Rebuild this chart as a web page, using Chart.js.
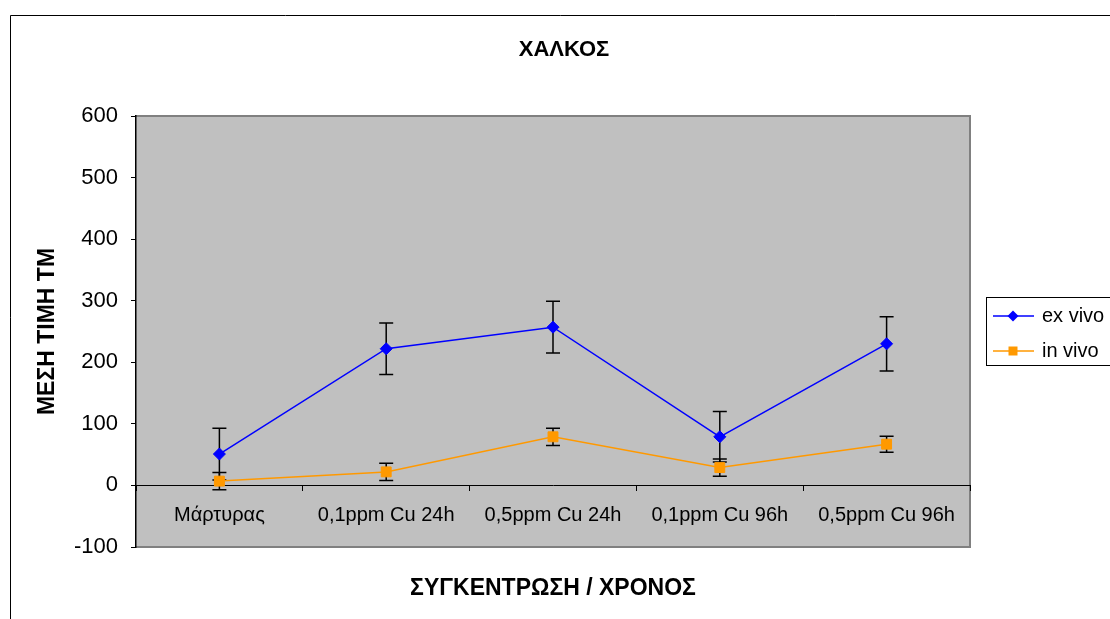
<!DOCTYPE html>
<html><head><meta charset="utf-8">
<script src="https://cdn.jsdelivr.net/npm/chart.js@4.4.0/dist/chart.umd.min.js"></script>
<style>html,body{margin:0;padding:0;background:#fff}#wrap{width:1110px;height:619px}</style>
</head><body><div id="wrap"><canvas id="c" width="1110" height="619"></canvas></div>
<script>
const categories = ['Μάρτυρας', '0,1ppm Cu 24h', '0,5ppm Cu 24h', '0,1ppm Cu 96h', '0,5ppm Cu 96h'];
const exVivo = [51, 222, 257, 79, 230];
const exVivoErr = [42, 42, 42, 41, 44];
const inVivo = [7, 22, 79, 29, 67];
const inVivoErr = [14, 14, 14, 14, 13];
const yMin = -100, yMax = 600, yStep = 100;
const chartTitle = 'ΧΑΛΚΟΣ';
const xTitle = 'ΣΥΓΚΕΝΤΡΩΣΗ / ΧΡΟΝΟΣ';
const yTitle = 'ΜΕΣΗ ΤΙΜΗ ΤΜ';
const seriesNames = ['ex vivo', 'in vivo'];

const FONT = "'Liberation Sans', Arial, sans-serif";

const bgPlugin = {
  id: 'bg',
  beforeDraw(chart) {
    const {ctx, chartArea: a} = chart;
    ctx.save();
    ctx.fillStyle = '#fff';
    ctx.fillRect(0, 0, chart.width, chart.height);
    ctx.strokeStyle = '#000'; ctx.lineWidth = 1;
    ctx.beginPath(); ctx.moveTo(10.5, chart.height); ctx.lineTo(10.5, 15.5); ctx.lineTo(chart.width, 15.5); ctx.stroke();
    ctx.fillStyle = '#C0C0C0';
    ctx.fillRect(a.left, a.top, a.width, a.height);
    ctx.strokeStyle = '#808080'; ctx.lineWidth = 2;
    ctx.beginPath(); ctx.moveTo(a.left, a.top); ctx.lineTo(a.right, a.top); ctx.lineTo(a.right, a.bottom); ctx.lineTo(a.left, a.bottom); ctx.stroke();
    ctx.restore();
  }
};

const errPlugin = {
  id: 'err',
  beforeDatasetsDraw(chart) {
    const {ctx} = chart;
    const xs = chart.scales.x, ys = chart.scales.y;
    ctx.save();
    ctx.strokeStyle = '#000'; ctx.lineWidth = 1.5;
    chart.data.datasets.forEach(ds => {
      const errs = ds.errors || [];
      ds.data.forEach((v, i) => {
        const e = errs[i]; if (e == null) return;
        const x = xs.getPixelForValue(i);
        const t = ys.getPixelForValue(v + e), b = ys.getPixelForValue(v - e);
        ctx.beginPath();
        ctx.moveTo(x, t); ctx.lineTo(x, b);
        ctx.moveTo(x - 7, t); ctx.lineTo(x + 7, t);
        ctx.moveTo(x - 7, b); ctx.lineTo(x + 7, b);
        ctx.stroke();
      });
    });
    ctx.restore();
  }
};

const legendPlugin = {
  id: 'leg',
  afterDraw(chart) {
    const {ctx, chartArea: a} = chart;
    const left = a.right + 16, top = 297;
    ctx.save();
    ctx.strokeStyle = '#000'; ctx.lineWidth = 1;
    ctx.strokeRect(left + 0.5, top + 0.5, 200, 68);
    chart.data.datasets.forEach((ds, i) => {
      const y = top + 19 + i * 35;
      ctx.strokeStyle = ds.borderColor; ctx.lineWidth = 1.5;
      ctx.beginPath(); ctx.moveTo(left + 7, y); ctx.lineTo(left + 48, y); ctx.stroke();
      const cx = left + 27;
      ctx.fillStyle = ds.backgroundColor;
      ctx.beginPath();
      if (ds.pointStyle === 'rectRot') {
        ctx.moveTo(cx, y - 5.5); ctx.lineTo(cx + 5.5, y); ctx.lineTo(cx, y + 5.5); ctx.lineTo(cx - 5.5, y); ctx.closePath();
      } else {
        ctx.rect(cx - 4.5, y - 4.5, 9, 9);
      }
      ctx.fill();
      ctx.fillStyle = '#000';
      ctx.font = '20px ' + FONT;
      ctx.textBaseline = 'middle'; ctx.textAlign = 'left';
      ctx.fillText(ds.label, left + 56, y);
    });
    ctx.restore();
  }
};

new Chart(document.getElementById('c'), {
  type: 'line',
  data: {
    labels: categories,
    datasets: [
      { label: seriesNames[0], data: exVivo, errors: exVivoErr, borderColor: '#0000FF', backgroundColor: '#0000FF',
        borderWidth: 1.5, pointStyle: 'rectRot', pointRadius: 6, pointHoverRadius: 6, pointBorderWidth: 1, tension: 0 },
      { label: seriesNames[1], data: inVivo, errors: inVivoErr, borderColor: '#FF9900', backgroundColor: '#FF9900',
        borderWidth: 1.5, pointStyle: 'rect', pointRadius: 7, pointHoverRadius: 7, pointBorderWidth: 1, tension: 0 }
    ]
  },
  options: {
    responsive: false,
    animation: false,
    devicePixelRatio: 1,
    layout: { padding: { left: 18, right: 0, top: 15, bottom: 0 } },
    plugins: {
      legend: { display: false },
      tooltip: { enabled: false },
      title: { display: true, text: chartTitle, color: '#000', font: { family: FONT, size: 22, weight: 'bold' },
               padding: { top: 22, bottom: 52.6 } }
    },
    scales: {
      x: {
        type: 'category',
        position: { y: 0 },
        offset: true,
        grid: { display: true, drawOnChartArea: false, drawTicks: true, tickLength: 5, offset: true, color: '#000', lineWidth: 1 },
        border: { display: true, color: '#000', width: 1 },
        ticks: { color: '#000', font: { family: FONT, size: 20 }, padding: 13, maxRotation: 0, autoSkip: false }
      },
      x2: {
        type: 'category',
        position: 'bottom',
        labels: categories,
        grid: { display: false },
        border: { display: false },
        ticks: { display: false },
        title: { display: true, text: xTitle, color: '#000', font: { family: FONT, size: 23, weight: 'bold' },
                 padding: { top: 0, bottom: 17 } },
        afterFit(s) { s.height = 72; }
      },
      y: {
        type: 'linear',
        position: 'left',
        min: yMin, max: yMax,
        grid: { display: true, drawOnChartArea: false, drawTicks: true, tickLength: 5, color: '#000', lineWidth: 1 },
        border: { display: true, color: '#000', width: 1.5 },
        ticks: { stepSize: yStep, color: '#000', font: { family: FONT, size: 22 }, padding: 13 },
        title: { display: true, text: yTitle, color: '#000', font: { family: FONT, size: 23, weight: 'bold' },
                 padding: { top: 16, bottom: 0 } },
        afterFit(s) { s.width = 118; }
      },
      yR: {
        type: 'linear',
        position: 'right',
        grid: { display: false },
        border: { display: false },
        ticks: { display: false },
        afterFit(s) { s.width = 140; }
      }
    }
  },
  plugins: [bgPlugin, errPlugin, legendPlugin]
});
</script>
</body></html>
